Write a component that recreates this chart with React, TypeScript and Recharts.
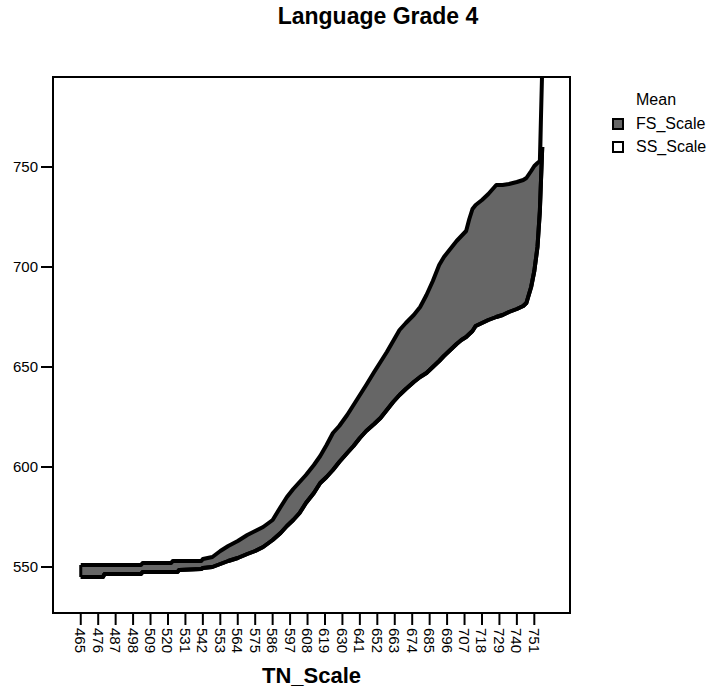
import React from "react";
import {
  ComposedChart,
  Area,
  Line,
  XAxis,
  YAxis,
  Legend,
  ReferenceArea,
  ReferenceLine,
} from "recharts";

const FONT = '"Liberation Sans", Arial, sans-serif';

// TN_Scale positions, with the two means at each one
const tnScale = [
  465, 479, 480, 503, 504, 522, 523, 526, 527, 541, 542, 548, 553, 558, 564,
  570, 575, 580, 586, 591, 595, 599, 603, 607, 612, 616, 620, 624, 628, 633,
  637, 641, 645, 650, 654, 658, 662, 666, 670, 675, 679, 683, 687, 691, 694,
  698, 702, 705, 708, 710, 712, 714, 718, 722, 727, 731, 735, 740, 744, 746,
  749, 751, 753, 754.5, 756,
];

const fsScale = [
  551, 551, 551, 551, 552, 552, 553, 553, 553, 553, 554, 555, 558, 560.5, 563,
  566, 568, 570, 573.5, 580, 585, 589, 592.5, 596, 601, 605.5, 611, 617, 620.5,
  626, 631, 636, 641, 647.5, 652.5, 657.5, 663, 668.5, 672, 676, 680, 686, 693,
  701, 705, 709, 713, 715.5, 718, 724, 729, 731, 733.5, 736.5, 741, 741, 741.5,
  742.5, 743.5, 744.5, 748, 750.5, 752, 753, 800,
];

const ssScale = [
  545, 545, 546.5, 546.5, 547.5, 547.5, 547.5, 547.5, 548.5, 549, 549.5, 550,
  551.5, 553, 554.5, 556.5, 558, 560, 563.5, 567, 570.5, 573.5, 577, 582, 587,
  592, 595, 598.5, 602.5, 607, 610.5, 614.5, 618, 621.5, 624.5, 628.5, 632.5,
  636, 639, 642.5, 645, 647, 650, 653, 655.5, 658.5, 661.5, 663.5, 665, 666.5,
  668, 670.5, 672, 673.5, 675, 676, 677.5, 679, 680.5, 682, 690, 698, 710, 728,
  760,
];

const xTicks = [
  465, 476, 487, 498, 509, 520, 531, 542, 553, 564, 575, 586, 597, 608, 619,
  630, 641, 652, 663, 674, 685, 696, 707, 718, 729, 740, 751,
];
const yTicks = [550, 600, 650, 700, 750];

const xDomain = [447.5, 773.5];
const yDomain = [527, 795];

const data = tnScale.map((tn, i) => ({
  tn,
  FS_Scale: fsScale[i],
  SS_Scale: ssScale[i],
}));

const fills: Record<string, string> = {
  FS_Scale: "#666666",
  SS_Scale: "#ffffff",
};

function XTick({ x, y, payload }: any) {
  return (
    <text
      x={x}
      y={y}
      transform={`rotate(90, ${x}, ${y})`}
      textAnchor="start"
      dominantBaseline="central"
      fontSize={15}
      fontFamily={FONT}
      fill="#000"
    >
      {payload.value}
    </text>
  );
}

function MeanLegend({ payload }: any) {
  return (
    <div style={{ fontFamily: FONT, fontSize: 16, color: "#000" }}>
      <div style={{ height: 24, lineHeight: "24px", paddingLeft: 24 }}>Mean</div>
      {(payload || []).map((e: any) => (
        <div
          key={e.value}
          style={{ height: 23, display: "flex", alignItems: "center" }}
        >
          <span
            style={{
              width: 12,
              height: 12,
              boxSizing: "border-box",
              border: "2px solid #000",
              background: fills[e.value],
              display: "inline-block",
            }}
          />
          <span style={{ marginLeft: 12 }}>{e.value}</span>
        </div>
      ))}
    </div>
  );
}

export default function App() {
  return (
    <div
      style={{
        position: "absolute",
        left: 0,
        top: 0,
        width: 709,
        height: 689,
        background: "#fff",
      }}
    >
      <div
        style={{
          position: "absolute",
          left: 228,
          top: 5,
          width: 300,
          textAlign: "center",
          fontFamily: FONT,
          fontWeight: "bold",
          fontSize: 23,
          lineHeight: 1,
        }}
      >
        Language Grade 4
      </div>
      <ComposedChart
        width={709}
        height={689}
        data={data}
        margin={{ top: 77, right: 139, bottom: 0, left: 0 }}
      >
        <XAxis
          dataKey="tn"
          type="number"
          domain={xDomain}
          allowDataOverflow
          ticks={xTicks}
          interval={0}
          height={76}
          axisLine={false}
          tickLine={{ stroke: "#000", strokeWidth: 2 }}
          tickSize={12}
          tickMargin={3}
          tick={<XTick />}
          label={{
            value: "TN_Scale",
            position: "insideBottom",
            offset: 6,
            style: {
              fontFamily: FONT,
              fontWeight: "bold",
              fontSize: 22,
              fill: "#000",
            },
          }}
        />
        <YAxis
          type="number"
          domain={yDomain}
          allowDataOverflow
          ticks={yTicks}
          width={53}
          axisLine={false}
          tickLine={{ stroke: "#000", strokeWidth: 2 }}
          tickSize={12}
          tickMargin={3}
          tick={{ fontSize: 15, fontFamily: FONT, fill: "#000" }}
        />
        <Legend
          layout="horizontal"
          verticalAlign="middle"
          content={<MeanLegend />}
          wrapperStyle={{ top: 88, left: 612, width: 97 }}
        />
        {/* band between the two means, FS on top */}
        <Area
          type="linear"
          name="FS_Scale"
          dataKey={(d: any) => [d.SS_Scale, d.FS_Scale]}
          fill={fills.FS_Scale}
          fillOpacity={1}
          stroke="#000"
          strokeWidth={4}
          strokeLinejoin="round"
          isAnimationActive={false}
        />
        <Line
          type="linear"
          name="SS_Scale"
          dataKey="SS_Scale"
          stroke="#000"
          strokeWidth={4}
          strokeLinejoin="round"
          dot={false}
          isAnimationActive={false}
        />
        {/* closing edge of the band at the first score */}
        <ReferenceLine
          segment={[
            { x: tnScale[0], y: ssScale[0] },
            { x: tnScale[0], y: fsScale[0] },
          ]}
          stroke="#000"
          strokeWidth={3}
        />
        <ReferenceArea
          x1={xDomain[0]}
          x2={xDomain[1]}
          y1={yDomain[0]}
          y2={yDomain[1]}
          fill="none"
          stroke="#000"
          strokeWidth={2}
        />
      </ComposedChart>
    </div>
  );
}
